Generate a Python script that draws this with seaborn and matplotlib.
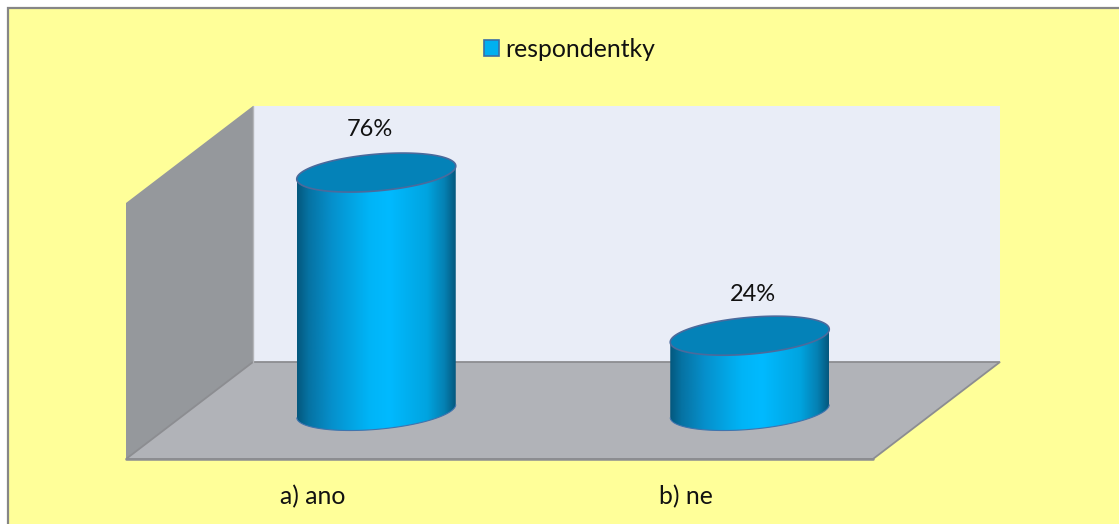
import numpy as np
import pandas as pd
import matplotlib
matplotlib.use("Agg")
import matplotlib.pyplot as plt
import seaborn as sns
from matplotlib.patches import Polygon, Rectangle
from matplotlib.transforms import Affine2D
from matplotlib.colors import LinearSegmentedColormap

categories = ["a) ano", "b) ne"]
values = [76, 24]
value_labels = ["76%", "24%"]
series_name = "respondentky"

W, H = 1119, 524
sns.set_theme(style="white")
plt.rcParams["font.family"] = ["Lato", "DejaVu Sans"]

YELLOW = "#FFFF99"
fig = plt.figure(figsize=(W / 100, H / 100), dpi=100, facecolor="white")

# page background and border
fig.add_artist(Rectangle((8 / W, -0.1), 1.2, 1.1 - 8 / H, transform=fig.transFigure,
                         facecolor=YELLOW, edgecolor="#868686", linewidth=1.6, zorder=-5))

# front plane of the 3D box
L, R, B, T = 126, 873, 459, 203
YMAX = 81.6
ax = fig.add_axes([L / W, 1 - B / H, (R - L) / W, (B - T) / H])
ax.patch.set_alpha(0)

df = pd.DataFrame({"cat": categories, "val": values})
BAR_PX = 159
UNIT_X = (R - L) / 2
sns.barplot(data=df, x="cat", y="val", color="#00B0F0", width=BAR_PX / UNIT_X,
            saturation=1, label=series_name, ax=ax, edgecolor="#3A6EA5", linewidth=1.2)
ax.set_xlim(-0.5, 1.5)
ax.set_ylim(0, YMAX)
UNIT_Y = (B - T) / YMAX

leg = ax.legend(loc="center", bbox_to_anchor=(569.5 / W, 1 - 49.5 / H), bbox_transform=fig.transFigure,
                frameon=False, fontsize=17.8, handlelength=0.6, handleheight=0.6, handletextpad=0.28,
                labelcolor="#111111", borderpad=0, borderaxespad=0)

bars = list(ax.patches)
for b in bars:
    b.set_visible(False)

# box walls (drawn in axes fraction with the depth of the 3D box)
DX, DY = 127 / (R - L), 97 / (B - T)
A = ax.transAxes
top = 1.0
ax.add_patch(Polygon([(0, 0), (0, top), (DX, top + DY), (DX, DY)], transform=A, clip_on=False,
                     facecolor="#95989C", edgecolor="none", zorder=0.1))
ax.add_patch(Polygon([(DX, DY), (DX, top + DY), (1 + DX, top + DY), (1 + DX, DY)], transform=A, clip_on=False,
                     facecolor="#E9EDF7", edgecolor="none", zorder=0.1))
ax.add_patch(Polygon([(0, 0), (1, 0), (1 + DX, DY), (DX, DY)], transform=A, clip_on=False, closed=True,
                     facecolor="#B1B3B8", edgecolor="#8C8D91", linewidth=1.3, zorder=0.2))
ax.plot([DX, DX], [DY, top + DY], transform=A, color="#B4B6BA", lw=1, clip_on=False, zorder=0.3)
ax.plot([0, 1], [0, 0], transform=A, color="#8C8D91", lw=1.8, clip_on=False, zorder=0.3)

# cylinders, half way through the depth
offset = Affine2D().translate(63.5, 48)
tr = ax.transData + offset
cmap = LinearSegmentedColormap.from_list("cyl", [
    (0.0, "#04587E"), (0.07, "#0672A2"), (0.22, "#0690CC"), (0.45, "#00B4F6"),
    (0.58, "#00BAFF"), (0.82, "#00A4E0"), (0.93, "#0580B2"), (1.0, "#04587E")])
grad = np.linspace(0, 1, 256).reshape(1, -1)
a = BAR_PX / 2 / UNIT_X
tilt = 6.5 / UNIT_Y
b_ax = 18.4 / UNIT_Y
t = np.linspace(0, 2 * np.pi, 181)
label_nudge = [(-6, 43), (3, 41)]

for bar, lab, nudge in zip(bars, value_labels, label_nudge):
    cx = bar.get_x() + bar.get_width() / 2
    h = bar.get_height()
    ex = cx + a * np.cos(t)
    ey = h + tilt * np.cos(t) + b_ax * np.sin(t)
    # body outline: front half of the lower ellipse + front half of the upper ellipse
    s = np.linspace(0, np.pi, 91)
    low_x = cx - a * np.cos(s)
    low_y = -tilt * np.cos(s) - b_ax * np.sin(s)
    vx = np.r_[low_x, low_x[::-1]]
    vy = np.r_[low_y, h + low_y[::-1]]
    im = ax.imshow(grad, extent=(cx - a, cx + a, -30, h + 30), aspect="auto", cmap=cmap,
                   transform=tr, zorder=2, interpolation="bilinear")
    clip = Polygon(np.c_[vx, vy], closed=True, transform=tr, facecolor="none", edgecolor="none",
                   clip_on=False)
    ax.add_patch(clip)
    im.set_clip_box(fig.bbox)
    im.set_clip_path(clip)
    ax.add_patch(Polygon(np.c_[low_x, low_y], closed=False, transform=tr, fill=False, edgecolor="#3F74AE",
                         linewidth=0.8, clip_on=False, zorder=2.1))
    ax.add_patch(Polygon(np.c_[ex, ey], closed=True, transform=tr, facecolor="#0482B8",
                         edgecolor="#4B6A9C", linewidth=1.2, clip_on=False, zorder=2.2))
    ax.annotate(lab, xy=(cx, h), xycoords=tr, xytext=nudge, textcoords="offset pixels",
                ha="center", va="center", fontsize=17, color="#111111")

ax.set_xlim(-0.5, 1.5)
ax.set_ylim(0, YMAX)
ax.set_xlabel("")
ax.set_ylabel("")
ax.set_yticks([])
ax.tick_params(axis="x", length=0, pad=19, labelsize=17.8, labelcolor="#111111")
for side, sp in ax.spines.items():
    sp.set_visible(False)

fig.savefig("out.png", dpi=100, facecolor=fig.get_facecolor())
